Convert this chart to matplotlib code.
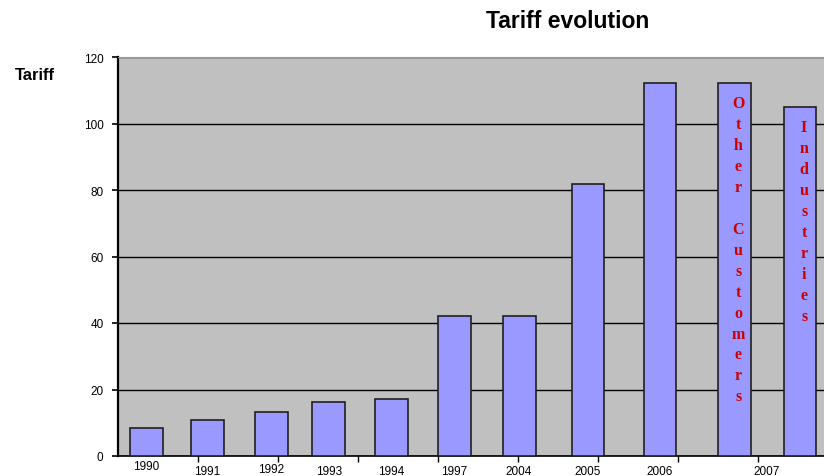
import matplotlib.pyplot as plt

# values
years = ["1990", "1991", "1992", "1993", "1994", "1997", "2004", "2005", "2006", "2007", "2007"]
tariff = [8.3, 10.7, 13.1, 16.3, 17.1, 42.1, 42.1, 81.8, 112.2, 112.2, 105.0]
notes = {9: "Other Customers", 10: "Industries"}

# layout (x in category-tick units)
bar_x = [0.36, 1.12, 1.92, 2.64, 3.42, 4.21, 5.02, 5.88, 6.78, 7.71, 8.53]
label_drop = [10, 15, 13, 15, 15, 15, 15, 15, 15, 15]   # px below axis

plt.rcParams['font.family'] = ['Liberation Sans', 'DejaVu Sans']

fig = plt.figure(figsize=(8.24, 4.77), dpi=100)
ax = fig.add_axes([117.5/824, 20/477, (824-117.5)/824, 399/477])
ax.set_facecolor('#c0c0c0')

ax.bar(bar_x, tariff, width=0.41, color='#9999ff', edgecolor='#202020', linewidth=1.2, zorder=3)

ax.set_xlim(0, (824-117.5)/80)
ax.set_ylim(0, 120)
ax.set_yticks(range(0, 121, 20))
ax.tick_params(axis='y', labelsize=8.5, length=4, width=1.2, pad=6)
ax.set_xticks(range(1, 9))
ax.set_xticklabels([])
ax.tick_params(axis='x', length=4, width=1)
ax.yaxis.grid(True, color='black', linewidth=1)
ax.set_axisbelow(True)

ax.spines['right'].set_visible(False)
ax.spines['top'].set_color('#999999')
ax.spines['top'].set_linewidth(0.8)
ax.spines['left'].set_linewidth(1.6)
ax.spines['bottom'].set_linewidth(1.2)

# year labels below bars, the last one sits between the two 2007 bars
label_x = bar_x[:9] + [(bar_x[9] + bar_x[10]) / 2]
for i, lx in enumerate(label_x):
    ax.annotate(years[i], xy=(lx, 0), xycoords=('data', 'axes fraction'),
                xytext=(0, -label_drop[i] * 0.72), textcoords='offset points',
                ha='center', va='center', fontsize=8.5, annotation_clip=False)

# vertical red notes inside the 2007 bars
for i, txt in notes.items():
    ax.annotate("\n".join(txt), xy=(bar_x[i], tariff[i]), xytext=(3, -9),
                textcoords='offset points', ha='center', va='top',
                color='#cc0000', fontsize=11.5, family='Liberation Serif',
                fontweight='bold', linespacing=1.41, multialignment='center', zorder=4)

fig.text(35/824, 1 - 75/477, "Tariff", ha='center', va='center', fontsize=12, fontweight='bold')
fig.text(568/824, 1 - 21/477, "Tariff evolution", ha='center', va='center', fontsize=16.5, fontweight='bold')

fig.savefig("out.png", dpi=100)
